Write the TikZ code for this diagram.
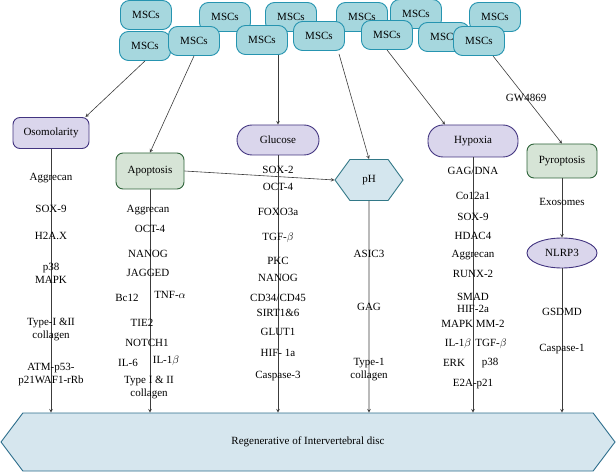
\documentclass[tikz,border=0pt]{standalone}
\usepackage{fontspec}
\setmainfont{Liberation Serif}
\usepackage{amsmath}
\usetikzlibrary{positioning,arrows.meta,shapes.geometric,shapes.symbols}
\definecolor{mscfill}{RGB}{166,215,222}
\definecolor{mscline}{RGB}{38,148,176}
\definecolor{cuefill}{RGB}{218,214,236}
\definecolor{cueline}{RGB}{66,52,128}
\definecolor{deathfill}{RGB}{214,228,214}
\definecolor{deathline}{RGB}{46,100,58}
\definecolor{phfill}{RGB}{212,230,238}
\definecolor{phline}{RGB}{50,120,135}
\definecolor{discfill}{RGB}{214,230,238}
\definecolor{discline}{RGB}{45,110,140}
\definecolor{wire}{RGB}{60,60,60}

\begin{document}
\begin{tikzpicture}[
    x = 1pt, y = -1pt,
    > = stealth,
    font = \fontsize{11}{13}\selectfont,
    every edge/.style = {draw=wire, line width=0.6pt},
    msc/.style = {rectangle, rounded corners=9pt, draw=mscline, fill=mscfill, line width=0.9pt, minimum width=51pt, minimum height=29pt},
    cue/.style = {rectangle, rounded corners=7pt, draw=cueline, fill=cuefill, line width=0.9pt},
    stadium/.style = {rectangle, rounded corners=15pt, draw=cueline, fill=cuefill, line width=0.9pt},
    death/.style = {rectangle, rounded corners=7pt, draw=deathline, fill=deathfill, line width=0.9pt},
    marker/.style = {align=center, inner sep=1pt}
]
\useasboundingbox (0,0) rectangle (616,473);

% MSCs, top row first, lower row drawn over it
\node[msc] (mscA) at (146,15) {MSCs};
\node[msc] (mscD) at (225,17) {MSCs};
\node[msc] (mscF) at (291,17) {MSCs};
\node[msc] (mscH) at (362,17) {MSCs};
\node[msc] (mscI) at (416,14) {MSCs};
\node[msc] (mscM) at (495,17) {MSCs};
\node[msc] (mscB) at (145,46) {MSCs};
\node[msc] (mscC) at (194,41) {MSCs};
\node[msc] (mscE) at (262,40) {MSCs};
\node[msc] (mscG) at (319,36) {MSCs};
\node[msc] (mscJ) at (387,35) {MSCs};
\node[msc] (mscK) at (444,37) {MSCs};
\node[msc] (mscL) at (479,41) {MSCs};

% Stimuli
\node[cue, minimum width=76pt, minimum height=31pt] (osm) at (51,133) {Osomolarity};
\node[death, minimum width=68pt, minimum height=36pt] (apop) at (150,171) {Apoptosis};
\node[stadium, minimum width=82pt, minimum height=30pt] (glu) at (278,140) {Glucose};
\node[signal, signal to=west and east, signal pointer angle=108, draw=phline, fill=phfill, line width=0.9pt, minimum width=68pt, minimum height=41pt] (ph) at (369,180) {pH};
\node[stadium, minimum width=90pt, minimum height=32pt] (hyp) at (473,141) {Hypoxia};
\node[death, minimum width=70pt, minimum height=34pt] (pyro) at (562,161) {Pyroptosis};
\node[ellipse, draw=cueline, fill=cuefill, line width=0.9pt, minimum width=70pt, minimum height=30pt] (nlrp) at (562,253) {NLRP3};

% Target
\node[signal, signal to=west and east, signal pointer angle=106, draw=discline, fill=discfill, line width=0.9pt, minimum width=614pt, minimum height=58pt] (disc) at (308,442) {Regenerative of Intervertebral disc};

% From MSCs
\path[->]
    (mscB.south) edge ([xshift=-4pt]osm.north east)
    (mscC.south) edge (apop.north)
    (glu |- mscE.south) edge (glu.north)
    ([xshift=20pt,yshift=-3pt]mscG.south) edge (ph.north)
    (mscJ.south) edge ([xshift=-28pt]hyp.north)
    ([xshift=14pt]mscL.south) edge node[pos=0.48, inner sep=0pt] {GW4869} (pyro.north);

% Down to the disc
\path[->]
    (osm) edge (osm |- disc.north)
    (apop) edge (apop |- disc.north)
    (apop.east) edge (ph.west)
    (glu) edge (glu |- disc.north)
    (ph) edge (ph |- disc.north)
    (hyp) edge (hyp |- disc.north)
    (pyro) edge node[pos=0.4, inner sep=0pt] {Exosomes} (nlrp)
    (nlrp) edge (nlrp |- disc.north);

% Osomolarity markers
\node[marker] (o1) at (51,178) {Aggrecan};
\node[marker] (o2) at (51,209) {SOX-9};
\node[marker] (o3) at (51,236) {H2A.X};
\node[marker] (o4) at (51,273) {p38\\MAPK};
\node[marker] (o5) at (51,330) {Type-I \&II\\collagen};
\node[marker] (o6) at (51,375) {ATM-p53-\\p21WAF1-rRb};

% Apoptosis markers
\node[marker] (a1) at (148,210) {Aggrecan};
\node[marker] (a2) at (150,229) {OCT-4};
\node[marker] (a3) at (148,254) {NANOG};
\node[marker] (a4) at (148,273) {JAGGED};
\node[marker] (a5) at (127,298) {Bc12};
\node[marker] (a6) at (170,295) {TNF-$\alpha$};
\node[marker] (a7) at (142,323) {TIE2};
\node[marker] (a8) at (147,343) {NOTCH1};
\node[marker] (a9) at (128,363) {IL-6};
\node[marker] (a10) at (166,361) {IL-1$\beta$};
\node[marker] (a11) at (149,388) {Type I \& II\\collagen};

% Glucose markers
\node[marker] (g1) at (278,170) {SOX-2};
\node[marker] (g2) at (278,187) {OCT-4};
\node[marker] (g3) at (278,212) {FOXO3a};
\node[marker] (g4) at (278,238) {TGF-$\beta$};
\node[marker] (g5) at (278,261) {PKC};
\node[marker] (g6) at (278,278) {NANOG};
\node[marker] (g7) at (278,298) {CD34/CD45};
\node[marker] (g8) at (278,313) {SIRT1\&6};
\node[marker] (g9) at (278,332) {GLUT1};
\node[marker] (g10) at (278,353) {HIF- 1a};
\node[marker] (g11) at (278,376) {Caspase-3};

% pH markers
\node[marker] (p1) at (369,254) {ASIC3};
\node[marker] (p2) at (369,307) {GAG};
\node[marker] (p3) at (369,370) {Type-1\\collagen};

% Hypoxia markers
\node[marker] (h1) at (473,171) {GAG/DNA};
\node[marker] (h2) at (473,196) {Co12a1};
\node[marker] (h3) at (473,217) {SOX-9};
\node[marker] (h4) at (473,236) {HDAC4};
\node[marker] (h5) at (473,255) {Aggrecan};
\node[marker] (h6) at (473,274) {RUNX-2};
\node[marker] (h7) at (473,297) {SMAD};
\node[marker] (h8) at (473,309) {HIF-2a};
\node[marker] (h9) at (473,324) {MAPK MM-2};
\node[marker] (h10) at (458,344) {IL-1$\beta$};
\node[marker] (h11) at (491,344) {TGF-$\beta$};
\node[marker] (h12) at (454,363) {ERK};
\node[marker] (h13) at (490,363) {p38};
\node[marker] (h14) at (473,384) {E2A-p21};

% Pyroptosis markers
\node[marker] (y1) at (562,312) {GSDMD};
\node[marker] (y2) at (562,349) {Caspase-1};

\end{tikzpicture}
\end{document}
